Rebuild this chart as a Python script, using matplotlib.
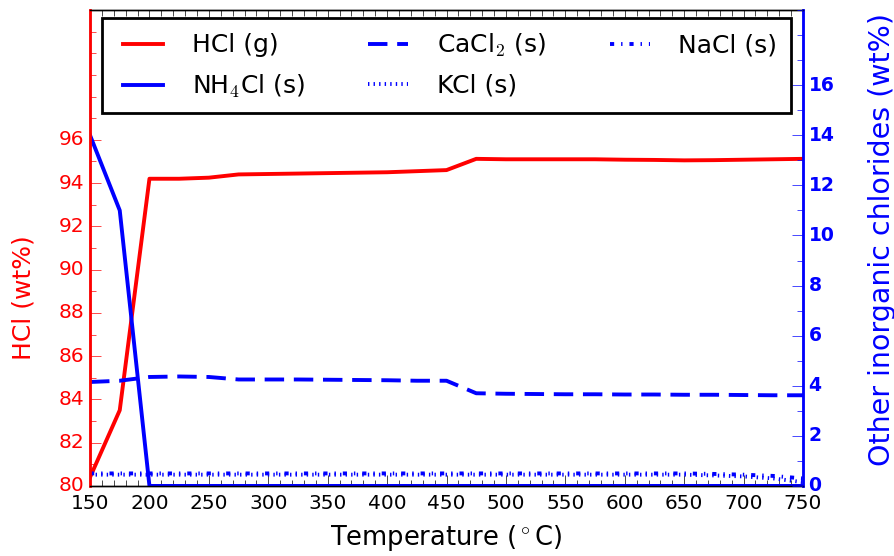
import matplotlib
matplotlib.use('Agg')
import matplotlib.pyplot as plt
from matplotlib.ticker import MultipleLocator

plt.style.use('classic')

# temperatures (deg C)
temps = [150, 175, 200, 225, 250, 275, 300, 325, 350, 375, 400, 425, 450, 475,
         500, 525, 550, 575, 600, 625, 650, 675, 700, 725, 750]

# HCl gas (wt%), left axis
hcl = [80.4, 83.5, 94.2, 94.2, 94.25, 94.4, 94.42, 94.44, 94.46, 94.48, 94.5, 94.55, 94.6, 95.12,
       95.1, 95.1, 95.1, 95.1, 95.08, 95.07, 95.05, 95.06, 95.08, 95.1, 95.12]

# other chlorides (wt%), right axis
nh4cl = [14.0, 11.0, 0.0, 0.0, 0.0, 0.0, 0.0, 0.0, 0.0, 0.0, 0.0, 0.0, 0.0, 0.0,
         0.0, 0.0, 0.0, 0.0, 0.0, 0.0, 0.0, 0.0, 0.0, 0.0, 0.0]
cacl2 = [4.15, 4.2, 4.35, 4.37, 4.35, 4.25, 4.25, 4.25, 4.24, 4.23, 4.22, 4.2, 4.2, 3.7,
         3.68, 3.67, 3.66, 3.66, 3.65, 3.65, 3.64, 3.64, 3.63, 3.62, 3.62]
kcl = [0.45, 0.45, 0.45, 0.45, 0.45, 0.45, 0.45, 0.45, 0.45, 0.45, 0.45, 0.45, 0.45, 0.45,
       0.45, 0.45, 0.45, 0.45, 0.45, 0.45, 0.45, 0.42, 0.38, 0.3, 0.15]
nacl = [0.5, 0.5, 0.5, 0.5, 0.5, 0.5, 0.5, 0.5, 0.5, 0.5, 0.5, 0.5, 0.5, 0.5,
        0.5, 0.5, 0.5, 0.5, 0.5, 0.5, 0.5, 0.48, 0.45, 0.4, 0.3]

fig = plt.figure(figsize=(8.95, 5.56), dpi=100, facecolor='white')
ax = fig.add_axes([0.1006, 0.126, 0.7966, 0.856])
ax2 = ax.twinx()

lw = 2.8
l1, = ax.plot(temps, hcl, color='red', lw=lw, label='HCl (g)')
l2, = ax2.plot(temps, nh4cl, color='blue', lw=lw, label='NH$_4$Cl (s)')
l3, = ax2.plot(temps, cacl2, color='blue', lw=lw, ls='--', dashes=(14, 7), label='CaCl$_2$ (s)')
l4, = ax2.plot(temps, kcl, color='blue', lw=lw, ls=':', label='KCl (s)')
l5, = ax2.plot(temps, nacl, color='blue', lw=lw, ls='-.', label='NaCl (s)')

ax.set_xlim(150, 750)
ax.set_ylim(80, 102)
ax2.set_ylim(0, 19)
ax.set_xticks(range(150, 751, 50))
ax.set_yticks(range(80, 97, 2))
ax2.set_yticks(range(0, 17, 2))
ax.xaxis.set_minor_locator(MultipleLocator(10))
ax.yaxis.set_minor_locator(MultipleLocator(1))
ax2.yaxis.set_minor_locator(MultipleLocator(1))

ax.tick_params(axis='x', which='both', direction='in', top=True, labelsize=14.5, pad=6)
ax.tick_params(axis='x', which='major', length=8)
ax.tick_params(axis='x', which='minor', length=4)
ax.tick_params(axis='y', which='both', direction='in', colors='red', labelsize=14.5, right=False)
ax.tick_params(axis='y', which='major', length=8)
ax.tick_params(axis='y', which='minor', length=4)
ax2.tick_params(axis='y', which='both', direction='in', colors='blue', labelsize=13.5)
ax2.tick_params(axis='y', which='major', length=8)
ax2.tick_params(axis='y', which='minor', length=4)
for t in ax2.get_yticklabels():
    t.set_fontweight('bold')

ax2.spines['left'].set_color('red')
ax2.spines['right'].set_color('blue')
ax2.spines['left'].set_linewidth(2)
ax2.spines['right'].set_linewidth(2)

ax.set_xlabel('Temperature ($^\\circ$C)', fontsize=18.5, labelpad=7)
ax.set_ylabel('HCl (wt%)', color='red', fontsize=18)
ax.yaxis.set_label_coords(-0.077, 0.395)
ax2.set_ylabel('Other inorganic chlorides (wt%)', color='blue', fontsize=20.5)
ax2.yaxis.set_label_coords(1.091, 0.517)

leg = ax2.legend([l1, l2, l3, l4, l5],
                 [l.get_label() for l in [l1, l2, l3, l4, l5]],
                 loc='upper center', ncol=3, fontsize=18, handlelength=2.2,
                 handletextpad=0.84, columnspacing=2.25, borderpad=0.55,
                 labelspacing=0.6, borderaxespad=0.3, fancybox=False)
leg.get_frame().set_linewidth(2)
leg.get_frame().set_edgecolor('black')

fig.savefig('out.png', dpi=100, facecolor='white')
